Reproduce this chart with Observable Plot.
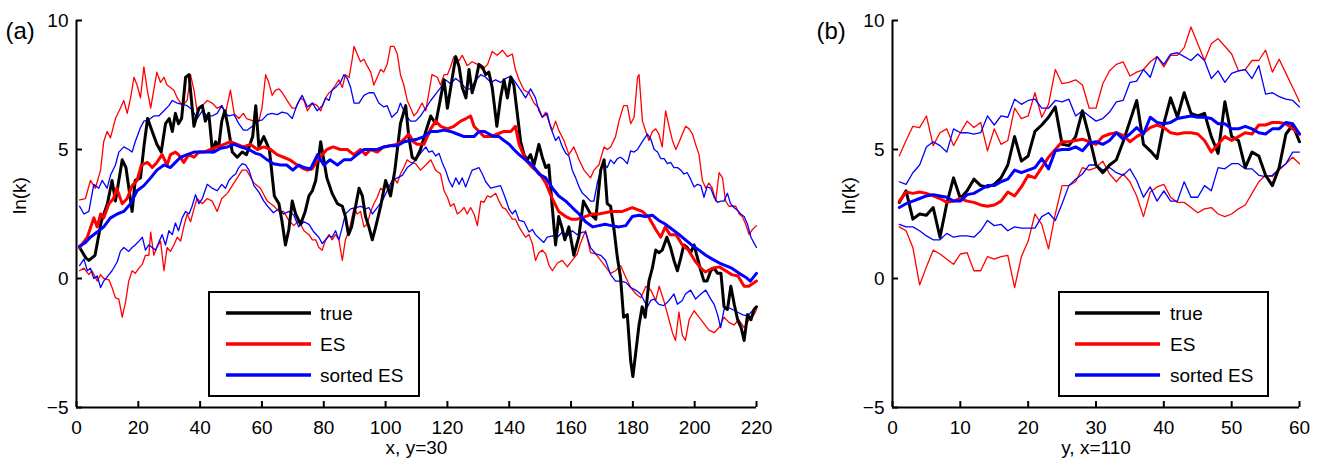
<!DOCTYPE html>
<html><head><meta charset="utf-8">
<script src="https://cdn.jsdelivr.net/npm/d3@7"></script>
<script src="https://cdn.jsdelivr.net/npm/@observablehq/plot@0.6"></script>
<style>
html,body{margin:0;padding:0;background:#fff;}
#root{position:relative;width:1325px;height:467px;overflow:hidden;font-family:"Liberation Sans",Arial,sans-serif;background:#fff;}
#root svg{position:absolute;top:0;}
</style></head><body><div id="root"></div>
<script>
// ---------- shared axis data ----------
const yDomain = [-5, 10];
const yTicks = [-5, 0, 5, 10];
const xDomainA = [0, 220];
const xTicksA = [0, 20, 40, 60, 80, 100, 120, 140, 160, 180, 200, 220];
const xDomainB = [0, 60];
const xTicksB = [0, 10, 20, 30, 40, 50, 60];
const legendLabels = ["true", "ES", "sorted ES"];
const colors = {true: "#000000", es: "#ff0000", sorted: "#0000ff"};

// ---------- panel (a): x, y=30 ----------  [x, ln(k)]
const trueA = [[1,1.2],[3,0.8],[4,0.7],[6,0.9],[8,2.2],[10,2.9],[11.5,3.8],[12.6,3.0],[14.8,4.6],[16,4.3],[18,2.6],[19,3.8],[20.7,3.9],[21.8,5.1],[23,6.2],[24.5,5.7],[26,5.2],[27.4,4.9],[28.8,6.0],[30,6.2],[31,5.7],[32,6.4],[33,6.0],[34,6.2],[35.3,7.8],[36.4,7.9],[38,5.9],[39.6,6.6],[40.7,6.7],[41.7,6.1],[42.8,6.4],[44,4.9],[45,5.3],[46,5.1],[47,6.1],[48,6.5],[49,5.9],[50.4,4.9],[52,4.7],[53.6,4.9],[55,4.8],[57,5.5],[58,6.7],[59,5.1],[60.6,5.5],[62.4,5.0],[64,3.2],[65.5,2.9],[66.5,2.2],[67.6,1.3],[68.7,1.9],[69.8,3.0],[70.9,2.5],[72.5,2.1],[74,2.6],[75.2,3.2],[76.3,3.4],[77.4,3.8],[79,5.3],[80,4.6],[81,3.9],[82.7,3.3],[84.4,2.9],[86,2.8],[87,2.4],[88,1.7],[89,2.0],[90.3,2.8],[91.4,3.5],[92.5,3.2],[93.5,2.4],[94.6,2.0],[95.7,1.5],[96.8,2.0],[98.4,2.8],[100,3.8],[101.6,3.2],[103,4.2],[104.8,6.0],[106.5,6.7],[107.5,5.5],[108.6,4.7],[109.7,4.6],[111.3,5.0],[113,5.7],[114.6,6.3],[116.2,6.0],[117.8,7.0],[118.9,7.7],[120,6.6],[121.6,7.8],[122.7,8.6],[123.8,8.2],[124.8,7.4],[126,7.0],[127,8.1],[128,7.2],[129.2,7.7],[130.2,8.3],[131.3,8.2],[132.4,7.9],[133.4,8.0],[134.5,7.4],[136,5.9],[137.2,7.0],[138.3,7.7],[139.4,7.0],[140.5,7.8],[141.5,7.5],[142.6,6.4],[143.7,5.3],[144.8,4.8],[145.8,4.6],[146.9,4.8],[148,4.4],[149.6,5.2],[150.7,4.7],[151.8,4.3],[152.8,4.4],[153.9,2.8],[155,1.3],[156,2.4],[157,2.0],[158,1.5],[159.3,2.0],[160.9,0.9],[162.5,1.6],[164,3.0],[166.3,2.5],[168,2.3],[169.6,4.2],[170.7,4.6],[171.7,2.9],[172.8,2.8],[173.9,1.9],[175,0.8],[176,0.05],[177,-1.5],[178.2,-1.4],[179.3,-3.2],[180,-3.8],[180.9,-2.9],[182,-1.8],[183,-1.1],[184,-1.5],[185.2,-0.1],[186.3,0.4],[187.4,1.1],[188.4,1.0],[189.5,1.1],[191,1.6],[192.2,1.2],[193.3,0.7],[194.4,0.3],[195.5,0.8],[196.5,1.3],[197.6,1.2],[198.7,1.0],[199.8,1.3],[200.9,0.8],[202,0.3],[203,-0.1],[204,-0.1],[205.2,0.3],[206.3,0.4],[207.4,0.2],[208.5,0.2],[209.5,-1.1],[210.6,-1.2],[211.7,-0.3],[212.8,-1.0],[213.9,-1.6],[215,-1.9],[216,-2.4],[217.1,-1.4],[218.2,-1.6],[219.2,-1.2],[220,-1.1]];
const esA = [[1,1.2],[3.5,1.6],[5.6,2.35],[6.7,2.0],[7.8,2.5],[8.8,2.35],[10.5,2.9],[12,3.1],[13,3.5],[14.8,2.9],[16.4,3.1],[18,3.6],[19.6,3.8],[21,4.4],[23,4.5],[24.5,4.3],[26,4.5],[27.7,4.8],[29.3,4.4],[30.4,4.8],[32,4.9],[33,4.8],[34.7,4.5],[36.3,4.8],[38,4.7],[39.6,4.9],[41.2,4.9],[43.4,5.0],[45.5,5.1],[47.7,5.2],[49.8,5.3],[52,5.2],[54,5.1],[56.3,5.2],[58.5,5.0],[60.6,5.1],[62.8,5.0],[64.9,4.8],[67,4.7],[69,4.6],[71.4,4.4],[73.6,4.25],[74.7,4.2],[76.3,4.25],[78,4.6],[79.5,4.8],[81,5.0],[83,5.1],[85.4,5.0],[87.6,5.0],[89.7,4.8],[91.9,5.0],[93.5,4.8],[95.2,5.0],[97.3,4.9],[99.4,5.1],[101.6,5.15],[103.8,5.2],[106,5.4],[107.5,5.6],[109,5.3],[110.2,5.2],[112.4,5.2],[114.6,5.8],[116.2,6.1],[117.8,5.9],[120,5.8],[122.1,5.9],[124.3,6.1],[126,6.2],[127.5,6.3],[128.6,5.9],[130.2,5.7],[131.9,5.5],[134,5.5],[136.2,5.6],[138.3,5.7],[140.5,5.7],[142,5.9],[143.2,5.2],[145.3,4.6],[147.5,4.3],[149.6,4.1],[151.8,3.7],[153.9,3.1],[156,2.6],[158.3,2.4],[160,2.3],[162,2.3],[164.5,2.4],[167,2.5],[169,2.5],[173,2.6],[176.6,2.6],[179.8,2.75],[183,2.6],[185,2.4],[187.4,1.9],[189,1.6],[190.5,2.0],[192,1.7],[194,1.7],[196,1.3],[198,1.1],[200,0.7],[202,0.4],[203.5,0.25],[205.7,0.4],[208,0.45],[210,0.3],[212,0.15],[214,0.1],[216,-0.3],[217.5,-0.3],[220,-0.1]];
const sortedA = [[1,1.25],[2.9,1.4],[4.5,1.6],[6.7,1.8],[8.8,2.0],[11,2.35],[13.2,2.5],[15.3,2.6],[17.5,2.9],[19.6,3.4],[21.8,3.6],[24,3.9],[26,4.2],[28.3,4.4],[30.4,4.3],[32,4.5],[33.7,4.7],[35.8,4.8],[38,4.9],[40,4.9],[42.3,4.9],[44.4,4.9],[46.6,5.05],[48.8,5.1],[51,5.2],[53,5.1],[55.8,5.0],[58,4.85],[59.5,4.8],[61.7,4.6],[63.7,4.45],[66,4.4],[68,4.4],[70,4.2],[71.9,4.4],[73.6,4.3],[75.7,4.25],[78,4.8],[80,4.4],[82,4.6],[84.4,4.4],[86.5,4.6],[88.7,4.6],[90.8,4.8],[93,5.0],[95.2,5.0],[97.3,5.0],[99.4,5.1],[101.6,5.15],[103.8,5.15],[106,5.3],[108.1,5.35],[110.2,5.4],[112.4,5.5],[114.6,5.7],[116.7,5.7],[118.9,5.75],[121,5.7],[123.2,5.6],[125.4,5.5],[127,5.5],[128.6,5.5],[130.2,5.7],[131.9,5.7],[133.5,5.6],[135,5.5],[136.7,5.5],[138.3,5.35],[140,5.2],[141.5,5.0],[143.2,4.8],[145.3,4.6],[147.5,4.4],[149.6,4.05],[151.8,3.9],[154,3.5],[156,3.2],[158.3,3.0],[160.4,2.75],[162.6,2.5],[164.7,2.2],[167,2.0],[169,2.05],[171,2.1],[173,2.05],[175.5,2.0],[177.7,2.05],[179.8,2.4],[182,2.45],[184,2.4],[186.3,2.45],[188.4,2.25],[190.6,2.1],[192.8,1.9],[195,1.7],[197,1.5],[199,1.3],[201.4,1.1],[203.6,0.9],[205.7,0.75],[208,0.6],[210,0.5],[212,0.4],[214.4,0.2],[216.5,0.05],[218,-0.1],[220,0.2]];
const esUpA = [[1,3.05],[2.9,3.1],[4.5,3.8],[6.1,3.5],[7.8,4.2],[8.8,5.3],[9.9,5.7],[11,5.45],[12.6,6.2],[14.2,6.6],[15.3,6.9],[16.4,6.4],[17.5,7.0],[18.6,7.8],[19.6,7.5],[20.7,7.0],[21.8,8.2],[22.9,7.3],[24,6.6],[25,7.3],[26,8.0],[27.2,7.6],[28.3,7.8],[29.3,7.5],[30.4,7.4],[31.5,7.3],[32.6,7.0],[34.2,6.7],[35.8,6.9],[36.9,7.9],[38,7.3],[39,6.5],[40.7,6.7],[42.3,6.9],[43.9,6.8],[45.5,6.6],[47,6.7],[48.2,6.4],[49.8,7.3],[51,6.4],[52.5,6.2],[54,6.4],[55,6.2],[57.4,6.1],[59,6.1],[60,6.6],[61.2,7.9],[62.2,7.6],[63.3,7.1],[64.4,7.3],[65.5,7.35],[66.6,7.2],[67.6,7.0],[68.7,6.8],[69.8,6.6],[70.9,6.6],[72.5,7.0],[73.6,6.9],[74.7,6.5],[76.3,6.8],[77.9,6.7],[79,6.5],[80.6,7.0],[81.7,7.2],[82.7,7.3],[83.8,7.5],[84.9,7.7],[86,7.4],[87,7.9],[88.2,7.8],[89.2,8.5],[89.8,9.0],[90.8,8.7],[91.9,8.4],[93,8.5],[94,8.25],[95.2,8.0],[96.2,7.5],[97.3,7.8],[98.4,8.1],[99.4,8.0],[100.5,8.3],[101.6,9.0],[102.7,9.0],[103.8,8.7],[104.8,7.9],[105.9,7.5],[107,6.9],[108.1,6.6],[109.2,6.3],[110.2,6.45],[111.8,6.8],[113,6.5],[114,7.2],[115,7.9],[116.7,7.8],[117.8,7.5],[118.9,7.9],[120,7.9],[121,8.2],[122.1,8.6],[123.8,8.45],[124.8,8.65],[126.4,8.25],[128,8.4],[129.7,8.3],[131.3,8.1],[133,8.3],[134.5,8.8],[136.1,8.65],[137.8,8.85],[139.4,8.6],[141,8.7],[142,8.1],[143.2,7.7],[144.8,7.3],[146.4,7.2],[148,6.8],[149.6,6.6],[150.7,6.25],[151.8,6.45],[152.9,6.05],[154,5.75],[155,6.1],[156,5.75],[157.7,5.35],[159.3,4.8],[160.9,5.1],[162.6,4.6],[164.2,4.2],[166.3,3.9],[167.4,4.2],[169,4.4],[170.7,5.1],[171.7,5.0],[172.8,5.1],[174.4,5.5],[175.5,6.1],[177,6.7],[178.2,6.7],[179.3,6.0],[180.4,6.25],[181.5,7.8],[182,7.9],[183.1,6.1],[184.2,5.7],[185.2,5.35],[186.3,5.7],[187.4,5.8],[188.4,5.6],[189.5,5.1],[190.6,6.5],[191.7,5.9],[192.8,5.35],[193.9,5.0],[195,5.3],[196,5.6],[197.1,5.9],[198.2,5.8],[199.3,5.6],[200.3,5.2],[201.4,4.8],[202.5,3.8],[203.6,3.5],[204.6,3.7],[205.7,3.5],[206.8,3.0],[207.9,4.1],[209,3.9],[210,3.0],[211.1,2.8],[212.2,2.8],[213.3,2.8],[214.4,2.5],[215.4,2.4],[216.5,2.1],[217.6,1.7],[218.7,1.9],[220,2.05]];
const esLoA = [[1,0.3],[2.4,0.4],[4,0.15],[5,0.3],[6.7,-0.1],[7.8,0.15],[8.8,0.0],[10.5,-0.05],[11.5,-0.35],[12.6,-0.75],[13.7,-0.8],[14.8,-1.5],[15.9,-0.9],[16.9,-0.1],[18,0.3],[19,0.2],[20.2,0.4],[21.3,0.55],[22.3,0.9],[23.4,0.9],[24,1.8],[25,0.9],[26,1.2],[27.2,1.45],[28.3,0.3],[29.3,1.2],[30.4,1.05],[31.5,1.3],[32.6,1.6],[33.7,1.45],[34.7,2.0],[35.8,2.5],[36.9,2.2],[38,2.7],[39,3.1],[40.7,2.9],[42.3,3.1],[43.9,3.0],[45.5,2.6],[47,3.1],[48.8,3.3],[50.4,3.6],[52,3.9],[53.6,4.2],[55,4.2],[57.4,3.7],[59.5,3.5],[61.7,3.0],[63.9,2.8],[65.5,2.6],[67,2.6],[68.7,2.25],[70.3,2.05],[71.9,2.25],[73.6,1.85],[75.2,1.7],[76.3,1.5],[77.4,1.5],[78.4,1.2],[79.5,1.1],[80.6,1.5],[81.7,1.7],[82.7,1.5],[83.8,1.7],[84.9,1.5],[86,0.7],[87,1.5],[88.2,1.85],[89.8,2.75],[90.8,2.5],[91.9,2.6],[93,2.0],[94,2.1],[95.2,2.6],[96.2,2.9],[97.3,3.15],[98.4,3.5],[99.4,3.4],[100.5,3.7],[101.6,3.5],[102.7,3.9],[103.8,3.7],[104.8,4.05],[105.9,4.3],[107,4.6],[108.1,4.5],[109.7,4.45],[111.3,4.2],[113,4.4],[114.6,4.6],[116.2,4.2],[117.8,4.05],[118.9,3.4],[120,3.15],[121,2.8],[122.1,2.9],[123.2,2.5],[124.3,2.6],[125.4,2.75],[126.4,2.5],[127.5,2.75],[128.6,2.5],[129.7,2.05],[130.8,3.0],[131.8,2.95],[132.9,3.2],[134,3.15],[135.6,3.3],[136.7,3.0],[137.8,2.75],[138.8,2.7],[139.9,2.5],[141,2.3],[142,2.3],[143.2,2.0],[144.2,1.8],[145.3,1.6],[146.4,1.7],[147.5,1.35],[148.5,0.7],[149.6,1.0],[150.7,1.1],[151.8,0.95],[152.9,0.5],[154,0.3],[155.6,0.6],[157.2,0.7],[158.8,0.45],[160.4,0.7],[162,0.95],[163,1.35],[164.7,1.85],[166.3,1.0],[168,0.95],[169.6,0.7],[171.2,0.45],[172.8,0.2],[174.4,0.3],[176,0.5],[177.7,0.05],[179.3,-0.35],[181,-0.6],[182.6,-0.75],[184.2,-0.3],[185.8,-0.45],[187.4,-0.85],[188.5,-0.3],[190,-0.85],[191.7,-1.6],[192.8,-2.1],[193.8,-2.4],[194.9,-1.3],[196,-2.2],[197,-2.4],[198.2,-1.6],[199.8,-1.25],[201.4,-1.5],[203,-1.75],[204.6,-2.0],[206.3,-2.1],[207.9,-1.9],[209.5,-1.5],[211.1,-1.7],[212.7,-1.8],[214.3,-1.6],[216,-1.9],[217.6,-1.6],[219.2,-1.4],[220,-1.2]];
const sortedUpA = [[1,2.8],[2.4,2.5],[4,2.6],[5.6,3.65],[7.2,3.5],[8.3,3.8],[9.9,3.5],[11,4.0],[12.6,4.4],[13.7,4.9],[15.3,5.1],[16.9,5.0],[18,4.9],[19,5.3],[20.7,5.85],[21.8,6.1],[23.4,6.15],[25,6.3],[26.6,6.3],[28.3,6.5],[29.9,6.7],[31,6.9],[32.6,6.8],[34.2,6.75],[35.8,6.7],[37.4,6.55],[39,6.2],[40.7,6.5],[42.3,6.3],[43.9,6.3],[45.5,6.4],[47,6.7],[48.2,6.4],[49.3,6.3],[51,6.35],[52.5,6.0],[54,5.75],[55.2,5.75],[56.9,5.9],[58.5,6.1],[60.1,6.15],[61.7,6.35],[63.3,6.4],[64.9,6.35],[66.5,6.45],[68.2,6.4],[69.8,6.2],[71.4,6.75],[73,7.1],[74.7,6.65],[76.3,6.8],[77.9,6.5],[79.5,6.7],[80.6,7.0],[81.7,6.9],[82.7,7.3],[83.8,7.4],[85.4,7.6],[86.5,7.9],[87.6,7.75],[88.7,7.4],[89.8,6.8],[91.4,6.8],[93,7.1],[94.6,7.2],[96.2,7.2],[97.8,6.8],[99.4,6.65],[100.5,6.7],[102,6.25],[103.8,6.45],[104.8,6.8],[105.9,6.5],[107,6.25],[108.1,6.1],[109.7,6.1],[111.3,6.3],[113,6.6],[114.6,6.9],[116.2,7.15],[117.8,7.4],[119.4,7.7],[121,7.55],[122.7,7.75],[124.3,7.6],[126,7.35],[127.5,7.35],[129.2,7.7],[130.8,7.9],[132.4,7.8],[134,7.6],[135.6,7.7],[137.2,7.6],[138.8,7.75],[140.5,7.85],[142,7.6],[143.7,7.3],[145.3,7.0],[146.9,7.35],[148.5,7.0],[149.6,6.5],[150.7,6.25],[152.3,6.4],[153.4,5.85],[155,5.35],[156,5.5],[157.2,5.1],[158.3,4.85],[159.3,4.75],[160.4,4.2],[161.5,3.9],[162.6,3.55],[163.7,3.3],[164.7,3.2],[166.3,3.0],[167.4,3.0],[168.5,3.7],[169.6,4.2],[170.7,4.45],[171.7,4.3],[172.8,4.6],[173.9,4.45],[175,4.65],[176,4.7],[177.1,4.6],[178.2,4.45],[179.3,4.95],[180.4,4.9],[181.5,5.0],[182.5,5.2],[183.6,5.4],[184.7,5.6],[185.8,5.4],[186.9,5.0],[188,4.9],[189,4.65],[190.1,4.65],[191.2,4.45],[192.2,4.5],[193.3,4.3],[194.4,4.3],[195.5,4.2],[196.5,4.05],[197.6,4.1],[198.7,3.85],[199.8,3.55],[200.9,3.65],[202,3.6],[203,3.15],[204,3.55],[205.2,3.5],[206.3,3.15],[207.4,2.95],[208.4,3.0],[209.5,3.0],[210.6,3.3],[211.6,2.9],[212.7,2.75],[213.8,2.65],[214.9,2.5],[216,2.4],[217.1,2.1],[218.2,1.6],[219.3,1.35],[220,1.2]];
const sortedLoA = [[1,0.5],[2.4,0.75],[3.5,0.3],[4.5,0.4],[5.6,0.0],[6.7,0.1],[7.8,-0.35],[8.8,-0.1],[10.5,0.15],[11.5,0.3],[13.2,0.65],[14.2,1.05],[15.3,1.2],[16.9,1.05],[18,1.2],[19,1.3],[20.2,1.45],[21.3,1.6],[22.3,1.1],[23.4,1.3],[24.5,1.2],[25.6,1.1],[26.6,1.4],[27.7,1.7],[28.8,1.3],[29.9,1.85],[31,1.7],[32,2.15],[33,1.85],[34.2,2.35],[35.3,2.6],[36.4,2.5],[37.4,2.8],[38.5,3.25],[39.6,2.9],[40.7,3.1],[42.3,3.65],[43.9,3.5],[45.5,3.4],[47,3.65],[48.2,3.5],[49.3,3.8],[50.4,3.95],[51.5,4.05],[52.5,4.3],[53.6,4.45],[54.7,4.4],[55.8,4.2],[57.4,3.6],[59,3.35],[60.6,3.0],[62.2,2.75],[63.7,2.55],[65.5,2.7],[67,2.5],[68.7,2.6],[70.3,2.45],[71.9,2.0],[73.6,2.2],[75.2,2.1],[76.8,1.8],[78.4,1.6],[79.5,1.35],[80.6,1.5],[81.7,1.65],[82.7,1.6],[83.8,1.85],[84.9,1.5],[86,2.0],[87,2.5],[88.7,2.7],[90.3,2.75],[91.9,2.8],[93.5,2.7],[94.6,2.75],[95.7,2.5],[97.3,2.75],[98.9,3.0],[100.5,3.4],[102.1,3.8],[103.8,3.9],[105.4,4.0],[107,4.3],[108.6,4.45],[109.7,4.6],[111.3,4.85],[113,5.1],[114,4.9],[115.1,4.95],[116.2,4.75],[117.3,4.85],[118.3,4.5],[119.4,4.2],[120.5,3.8],[121.6,3.55],[122.7,3.9],[123.8,3.65],[124.8,3.9],[125.9,3.55],[127,3.9],[128,4.2],[129.2,4.25],[130.2,4.3],[131.3,4.05],[132.4,3.75],[134,3.5],[135.6,3.55],[137.2,3.6],[138.8,3.1],[139.9,2.7],[141,2.5],[142,2.65],[143.2,2.25],[144.8,2.2],[146.4,1.8],[147.5,1.9],[148.5,1.7],[150.2,1.5],[151.2,1.4],[152.3,1.6],[154,1.65],[155.6,1.6],[157.2,1.8],[158.8,1.65],[160.4,1.85],[162,1.7],[163.7,1.8],[164.7,1.8],[166.3,1.2],[168,0.95],[169.6,0.9],[171.2,0.7],[172.8,0.15],[174.4,-0.1],[176,-0.1],[177.7,-0.15],[179.3,-0.35],[180.9,-0.45],[182.5,-0.6],[183.6,-0.85],[184.7,-1.1],[185.8,-0.85],[186.9,-0.8],[188.4,-1.0],[190,-1.05],[191.7,-0.85],[193.3,-0.6],[194.4,-1.0],[196,-0.85],[197,-0.6],[198.7,-0.45],[200.3,-0.8],[202,-0.6],[203.6,-0.45],[205.2,-0.8],[206.3,-1.0],[207.4,-1.4],[208.4,-1.9],[209.5,-1.2],[210.6,-1.1],[212.2,-1.2],[213.8,-1.3],[215.4,-1.4],[217.1,-1.45],[218.7,-1.25],[220,-1.1]];

// ---------- panel (b): y, x=110 ----------  values at y = 1..60
const yCoordB = [1,2,3,4,5,6,7,8,9,10,11,12,13,14,15,16,17,18,19,20,21,22,23,24,25,26,27,28,29,30,31,32,33,34,35,36,37,38,39,40,41,42,43,44,45,46,47,48,49,50,51,52,53,54,55,56,57,58,59,60];
const trueB = [2.95,3.4,2.3,2.5,2.45,2.75,1.6,2.9,3.9,3.1,3.4,3.85,3.6,3.55,3.65,3.9,4.4,5.5,4.55,4.75,5.7,5.95,6.25,6.65,5.2,5.15,5.5,6.5,5.5,4.4,4.1,4.4,4.6,5.3,6.1,6.9,5.2,4.95,4.65,6.0,7.0,6.25,7.2,6.4,6.3,6.4,5.5,4.85,6.85,5.5,5.35,4.3,4.9,4.75,4.0,3.6,4.3,5.6,5.95,5.3];
const esB = [3.0,3.35,3.3,3.35,3.3,3.2,3.1,2.95,3.0,3.1,3.0,2.95,2.85,2.8,2.85,3.0,3.35,3.2,3.55,4.0,3.9,4.3,4.7,5.0,5.3,5.3,5.35,5.4,5.3,5.2,5.5,5.6,5.65,5.55,5.3,5.5,5.65,5.85,5.95,5.85,5.65,5.6,5.65,5.65,5.6,5.35,4.9,5.2,5.5,5.35,5.5,5.65,5.6,5.95,5.95,6.05,6.05,6.0,5.8,5.6];
const sortedB = [2.75,2.9,3.0,3.1,3.2,3.25,3.2,3.15,3.0,3.0,3.25,3.3,3.45,3.6,3.6,3.75,3.85,4.2,4.1,4.2,4.3,4.65,4.25,4.95,5.0,5.0,5.1,4.95,5.25,5.3,5.2,5.35,5.65,5.4,5.6,5.85,5.6,6.25,6.05,6.0,6.05,6.2,6.25,6.3,6.25,6.25,6.2,6.0,6.0,5.8,5.8,5.9,5.8,5.65,5.6,5.8,5.8,6.05,6.0,5.6];
const esUpB = [4.75,5.35,5.9,5.85,6.3,5.15,5.65,5.8,5.15,5.65,6.1,5.85,6.05,4.95,5.8,5.2,5.35,6.6,6.2,6.3,7.2,6.25,6.75,8.1,7.55,7.6,7.7,7.5,6.6,6.6,7.55,8.05,8.3,8.4,7.85,8.0,8.1,8.4,8.6,8.2,8.65,8.65,8.95,9.75,9.1,8.45,9.1,9.3,9.0,8.7,8.05,8.1,8.45,8.45,8.85,8.0,8.5,7.95,7.4,6.85];
const esLoB = [2.0,1.85,1.2,-0.25,0.45,1.1,0.95,0.75,0.55,0.95,1.0,0.3,0.3,0.85,0.75,0.85,0.9,-0.35,0.85,1.45,2.5,2.1,1.15,2.5,3.6,3.6,3.75,4.3,4.2,4.3,4.55,4.05,3.75,4.05,3.75,3.2,2.4,3.35,3.55,3.65,3.15,2.95,2.95,2.75,2.55,2.7,2.75,2.5,2.4,2.5,2.7,2.85,3.3,3.75,4.0,3.95,4.2,4.45,4.7,4.45];
const sortedUpB = [3.75,3.65,4.1,4.4,5.1,5.3,5.15,4.9,5.8,5.65,5.65,5.6,5.65,6.3,5.95,6.3,6.25,6.95,6.75,6.9,6.95,6.6,6.6,6.9,6.85,6.95,6.3,6.5,6.3,6.1,6.2,6.45,6.85,6.9,7.6,7.65,8.1,7.8,8.6,8.3,8.7,8.75,8.6,8.45,8.7,8.45,7.75,8.05,7.6,7.95,8.05,8.1,7.75,8.25,7.15,7.2,7.05,6.95,6.9,6.65];
const sortedLoB = [2.1,2.0,2.0,1.85,1.65,1.5,1.5,1.75,1.6,1.65,1.65,1.6,1.85,2.25,2.05,2.1,1.85,2.0,1.95,1.95,1.95,2.4,2.55,2.25,2.9,3.6,3.85,4.05,4.4,4.4,4.2,4.3,4.1,4.0,4.25,3.8,3.15,3.55,3.0,3.4,3.0,3.0,3.75,3.15,3.15,3.6,3.4,4.3,4.25,4.45,4.45,4.25,4.25,4.0,3.95,4.0,4.25,4.45,4.9,4.9];

// ---------- drawing ----------
const FONT = '"Liberation Sans", Arial, Helvetica, sans-serif';
const H = 467, MT = 20, MB = 60, FS = 19;
const zipB = (vals) => yCoordB.map((x, i) => [x, vals[i]]);

function panel({left, width, marginLeft, marginRight, xDomain, xTicks, xLabel, tag, tagDx, ylabDx, series}) {
  const plotW = width - marginLeft - marginRight, plotH = H - MT - MB;
  const marks = [];
  for (const s of series) {
    marks.push(Plot.line(s.data, {x: d => d[0], y: d => d[1], stroke: s.color, strokeWidth: s.w, strokeLinejoin: "round"}));
  }
  marks.push(Plot.ruleX([xDomain[0]], {stroke: "black", strokeWidth: 2}));
  marks.push(Plot.ruleY([yDomain[0]], {stroke: "black", strokeWidth: 2}));
  marks.push(Plot.tickY(yTicks, {y: d => d, stroke: "black", strokeWidth: 2, insetRight: plotW - 6}));
  marks.push(Plot.tickX(xTicks, {x: d => d, stroke: "black", strokeWidth: 2, insetTop: plotH - 6}));
  marks.push(Plot.axisY({ticks: yTicks, tickSize: 0, tickPadding: 8, fontSize: FS, label: null}));
  marks.push(Plot.axisX({ticks: xTicks, tickSize: 0, tickPadding: 13, fontSize: FS, label: null}));
  marks.push(Plot.text([xLabel], {text: d => d, frameAnchor: "bottom", dy: 46, fontSize: FS, fill: "black"}));
  marks.push(Plot.text(["ln(k)"], {text: d => d, frameAnchor: "left", rotate: -90, dx: ylabDx, fontSize: FS, fill: "black"}));
  marks.push(Plot.text([tag], {text: d => d, frameAnchor: "top-left", textAnchor: "start", dx: tagDx, dy: 1, fontSize: 24, fill: "black"}));
  const svg = Plot.plot({
    width, height: H, marginLeft, marginRight, marginTop: MT, marginBottom: MB,
    x: {domain: xDomain}, y: {domain: yDomain},
    style: {fontFamily: FONT, color: "black", background: "transparent", overflow: "visible"},
    marks
  });
  svg.style.left = left + "px";
  return svg;
}

function seriesSet(t, e, s, eu, el, su, sl) {
  return [
    {data: eu, color: colors.es, w: 1.3},
    {data: el, color: colors.es, w: 1.3},
    {data: su, color: colors.sorted, w: 1.3},
    {data: sl, color: colors.sorted, w: 1.3},
    {data: t, color: colors.true, w: 3},
    {data: e, color: colors.es, w: 3},
    {data: s, color: colors.sorted, w: 3}
  ];
}

const root = document.getElementById("root");
root.appendChild(panel({
  left: 0, width: 790, marginLeft: 76, marginRight: 34,
  xDomain: xDomainA, xTicks: xTicksA, xLabel: "x, y=30", tag: "(a)", tagDx: -71, ylabDx: -57,
  series: seriesSet(trueA, esA, sortedA, esUpA, esLoA, sortedUpA, sortedLoA)
}));
root.appendChild(panel({
  left: 790, width: 535, marginLeft: 102, marginRight: 26,
  xDomain: xDomainB, xTicks: xTicksB, xLabel: "y, x=110", tag: "(b)", tagDx: -76, ylabDx: -44,
  series: seriesSet(zipB(trueB), zipB(esB), zipB(sortedB), zipB(esUpB), zipB(esLoB), zipB(sortedUpB), zipB(sortedLoB))
}));

// ---------- legends ----------
const leg = d3.select(root).append("svg").attr("width", 1325).attr("height", H)
  .style("left", "0px").style("font-family", FONT);
const legendColors = [colors.true, colors.es, colors.sorted];
for (const box of [{x: 209, w: 210, lx0: 226, lx1: 311, tx: 320}, {x: 1059, w: 209, lx0: 1075, lx1: 1160, tx: 1170}]) {
  leg.append("rect").attr("x", box.x).attr("y", 292).attr("width", box.w).attr("height", 104)
    .attr("fill", "white").attr("stroke", "black").attr("stroke-width", 2);
  legendLabels.forEach((lab, i) => {
    const yy = 313 + i * 31;
    leg.append("line").attr("x1", box.lx0).attr("x2", box.lx1).attr("y1", yy).attr("y2", yy)
      .attr("stroke", legendColors[i]).attr("stroke-width", 3.5);
    leg.append("text").attr("x", box.tx).attr("y", yy + 7).attr("font-size", FS).attr("fill", "black").text(lab);
  });
}
</script></body></html>
